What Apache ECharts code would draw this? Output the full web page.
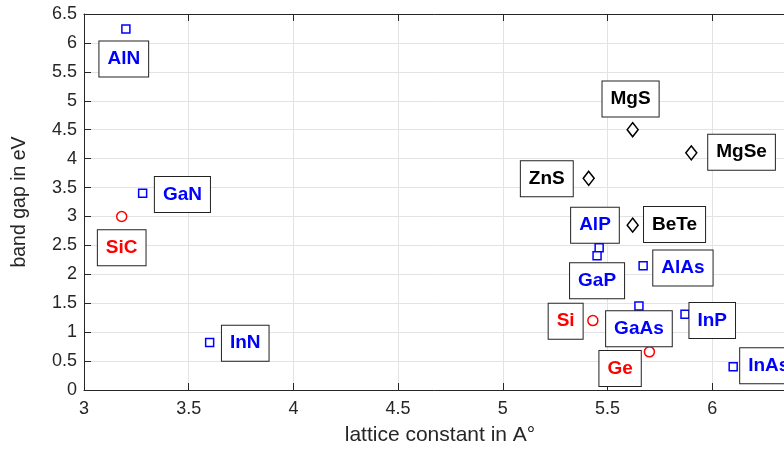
<!DOCTYPE html>
<html>
<head>
<meta charset="utf-8">
<script src="https://cdn.jsdelivr.net/npm/echarts@6/dist/echarts.min.js"></script>
<style>
  html, body { margin: 0; padding: 0; background: #fff; }
  #main { width: 784px; height: 451px; }
</style>
</head>
<body>
<div id="main"></div>
<script>
// III-V (blue squares)
var blueNames = ["AlN", "GaN", "InN", "AlP", "GaP", "AlAs", "GaAs", "InP", "InAs"];
var blueX = [3.2, 3.28, 3.6, 5.46, 5.45, 5.67, 5.65, 5.87, 6.1];
var blueY = [6.24, 3.4, 0.82, 2.46, 2.32, 2.15, 1.45, 1.31, 0.4];
var blueLabelX = [3.19, 3.47, 3.77, 5.44, 5.45, 5.86, 5.65, 6.0, 6.27];
var blueLabelY = [5.72, 3.38, 0.81, 2.85, 1.89, 2.11, 1.06, 1.2, 0.42];

// group IV (red circles)
var redNames = ["SiC", "Si", "Ge"];
var redX = [3.18, 5.43, 5.7];
var redY = [3.0, 1.2, 0.66];
var redLabelX = [3.18, 5.3, 5.56];
var redLabelY = [2.46, 1.19, 0.37];

// II-VI (black diamonds)
var blackNames = ["MgS", "MgSe", "ZnS", "BeTe"];
var blackX = [5.62, 5.9, 5.41, 5.62];
var blackY = [4.5, 4.1, 3.66, 2.85];
var blackLabelX = [5.61, 6.14, 5.21, 5.82];
var blackLabelY = [5.03, 4.11, 3.65, 2.86];

var axisColor = "#262626";
var font = "Liberation Sans, Arial, Helvetica, sans-serif";

function pts(xs, ys, names) {
  return xs.map(function (x, i) {
    return { name: names ? names[i] : "", value: [x, ys[i]] };
  });
}

function markerSeries(xs, ys, symbol, size, color) {
  return {
    type: "scatter",
    data: pts(xs, ys),
    symbol: symbol,
    symbolSize: size,
    itemStyle: { color: "#fff", borderColor: color, borderWidth: 1.5, opacity: 1 },
    z: 3,
  };
}

// text boxes placed in data coordinates (like MATLAB text())
function labelSeries(xs, ys, names, color) {
  return {
    type: "scatter",
    data: pts(xs, ys, names),
    symbolSize: 1,
    itemStyle: { color: "rgba(0,0,0,0)", opacity: 1 },
    silent: true,
    z: 4,
    label: {
      show: true,
      position: "inside",
      formatter: "{b}",
      color: color,
      fontFamily: font,
      fontWeight: "bold",
      fontSize: 19,
      backgroundColor: "#fff",
      borderColor: "#222",
      borderWidth: 1,
      padding: [8, 8, 8, 8],
    },
  };
}

var myChart = echarts.init(document.getElementById("main"));

var option = {
  animation: false,
  backgroundColor: "#fff",
  grid: {
    left: 84,
    top: 14,
    right: -12,
    bottom: 61,
    outerBoundsMode: "none",
  },
  xAxis: [
    {
      type: "value",
      min: 3,
      max: 6.4,
      interval: 0.5,
      name: "lattice constant in A\u00b0",
      nameLocation: "middle",
      nameGap: 35,
      nameTextStyle: { color: axisColor, fontFamily: font, fontSize: 21 },
      axisLine: { show: true, lineStyle: { color: axisColor, width: 1 } },
      axisTick: { show: true, inside: true, length: 7, lineStyle: { color: axisColor } },
      axisLabel: { color: axisColor, fontFamily: font, fontSize: 18, margin: 10, showMaxLabel: false },
      splitLine: { show: true, lineStyle: { color: "#e3e3e3", width: 1 } },
    },
    {
      type: "value",
      position: "top",
      min: 3,
      max: 6.4,
      interval: 0.5,
      axisLine: { show: true, lineStyle: { color: axisColor, width: 1 } },
      axisTick: { show: true, inside: true, length: 7, lineStyle: { color: axisColor } },
      axisLabel: { show: false },
      splitLine: { show: false },
    },
  ],
  yAxis: {
    type: "value",
    min: 0,
    max: 6.5,
    interval: 0.5,
    name: "band gap in eV",
    nameLocation: "middle",
    nameGap: 54,
    nameTextStyle: { color: axisColor, fontFamily: font, fontSize: 19.5 },
    axisLine: { show: true, lineStyle: { color: axisColor, width: 1 } },
    axisTick: { show: true, inside: true, length: 7, lineStyle: { color: axisColor } },
    axisLabel: { color: axisColor, fontFamily: font, fontSize: 18, margin: 7 },
    splitLine: { show: true, lineStyle: { color: "#e3e3e3", width: 1 } },
  },
  series: [
    markerSeries(blueX, blueY, "rect", 8, "#0000ff"),
    markerSeries(redX, redY, "circle", 10, "#ff0000"),
    markerSeries(blackX, blackY, "diamond", [11, 14], "#000"),
    labelSeries(blueLabelX, blueLabelY, blueNames, "#0000ff"),
    labelSeries(redLabelX, redLabelY, redNames, "#ff0000"),
    labelSeries(blackLabelX, blackLabelY, blackNames, "#000"),
  ],
};

myChart.setOption(option);
</script>
</body>
</html>
